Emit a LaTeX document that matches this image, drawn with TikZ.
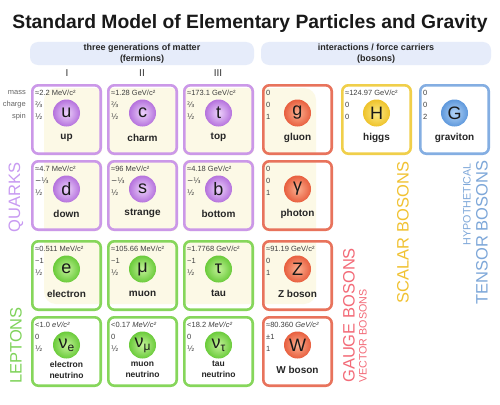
\documentclass[tikz,border=0pt]{standalone}
\usepackage{fontspec}
\setmainfont{Liberation Sans}
\newfontfamily\dvs{DejaVu Sans}
\definecolor{qline}{HTML}{CB98E8}
\definecolor{qin}{HTML}{EDD3FB}
\definecolor{qout}{HTML}{B572DD}
\definecolor{lline}{HTML}{86D65B}
\definecolor{lin}{HTML}{C4F29A}
\definecolor{lout}{HTML}{6ACB3A}
\definecolor{gline}{HTML}{E8735C}
\definecolor{gin}{HTML}{FBB090}
\definecolor{gout}{HTML}{E85F3F}
\definecolor{hline}{HTML}{F0CF4A}
\definecolor{hin}{HTML}{FCEB88}
\definecolor{hout}{HTML}{EEC22A}
\definecolor{tline}{HTML}{84AEE2}
\definecolor{tin}{HTML}{B5D5F7}
\definecolor{tout}{HTML}{5E98DC}
\definecolor{hdr}{HTML}{E6ECFA}
\definecolor{cream}{HTML}{FCF9E6}
\definecolor{qtxt}{HTML}{C89AF2}
\definecolor{ltxt}{HTML}{7FD35A}
\definecolor{gtxt}{HTML}{F36B78}
\definecolor{stxt}{HTML}{F1C232}
\definecolor{ttxt}{HTML}{7DA7D9}
\newcommand\fa{{\dvs ⅔}}
\newcommand\fb{{\dvs −⅓}}
\newcommand\fh{{\dvs ½}}
\newcommand\nusym[1]{ν\raisebox{-3pt}{\fontsize{12}{12}\selectfont #1}}
\newcommand\twoline[2]{\fontsize{8.5}{9}\selectfont #1\\\fontsize{8.5}{9}\selectfont #2}
\tikzset{
  cellbox/.style={draw=#1line, line width=2.6pt, rounded corners=6pt,
    minimum width=68.4pt, minimum height=68.4pt, inner sep=0pt},
  ballnode/.style={circle, minimum size=27pt, inner sep=0pt,
    inner color=#1in, outer color=#1out, text=black!90,
    font=\fontsize{18}{18}\selectfont},
  pname/.style={font=\bfseries\fontsize{10}{11}\selectfont, text=black!85,
    align=center, inner sep=0pt},
  pdata/.style={font=\fontsize{7.5}{8}\selectfont, text=black!75,
    anchor=west, inner sep=0pt},
  rowlbl/.style={font=\fontsize{7.5}{8}\selectfont, text=black!60,
    anchor=east, inner sep=0pt},
  hdrbox/.style={fill=hdr, rounded corners=8pt, minimum height=23pt,
    align=center, inner sep=0pt, text=black!85,
    font=\bfseries\fontsize{9}{11}\selectfont},
  gen/.style={font=\fontsize{10}{10}\selectfont, text=black!80, inner sep=0pt},
  biglbl/.style={rotate=90, inner sep=0pt, font=\fontsize{16.5}{17}\selectfont},
  smalllbl/.style={rotate=90, inner sep=0pt, font=\fontsize{10.7}{11}\selectfont}
}
\newcommand\pcell[9]{%
  \node[cellbox=#4] (#1) at ({#2+35.5},{#3+35.5}) {};
  \node[ballnode=#4] (#1-sym) at ({#2+35.5},{#3+29}) {#5};
  \node[pname] (#1-name) at ({#2+35.5},{#3+53.5}) {#6};
  \node[pdata] (#1-mass) at ({#2+4},{#3+9}) {#7};
  \node[pdata] (#1-charge) at ({#2+4},{#3+21}) {#8};
  \node[pdata] (#1-spin) at ({#2+4},{#3+33}) {#9};
}
\begin{document}
\begin{tikzpicture}[x=1pt,y=-1pt]
\useasboundingbox (0,0) rectangle (500,404);
\fill[white] (0,0) rectangle (500,404);
% faint background region, visible inside the cells only
\begin{scope}
  \clip[rounded corners=6pt]
    (31,84) rectangle (102,155) (107,84) rectangle (178,155) (183,84) rectangle (254,155)
    (31,160) rectangle (102,231) (107,160) rectangle (178,231) (183,160) rectangle (254,231)
    (31,240) rectangle (102,311) (107,240) rectangle (178,311) (183,240) rectangle (254,311)
    (262,84) rectangle (333,155) (262,160) rectangle (333,231) (262,240) rectangle (333,311);
  \fill[cream, rounded corners=12pt] (44,88) rectangle (316,304);
\end{scope}
% title
\node[font=\bfseries\fontsize{19.3}{20}\selectfont, anchor=base, inner sep=0pt, text=black!90]
  (title) at (250,29) {Standard Model of Elementary Particles and Gravity};
% headers
\node[hdrbox, minimum width=224pt] (hdrL) at (142,53.5) {three generations of matter\\(fermions)};
\node[hdrbox, minimum width=230pt] (hdrR) at (376,53.5) {interactions / force carriers\\(bosons)};
\node[gen] (g1) at (67,73) {I};
\node[gen] (g2) at (142,73) {II};
\node[gen] (g3) at (218,73) {III};
% row labels
\node[rowlbl] (lmass) at (26,93) {mass};
\node[rowlbl] (lcharge) at (26,105) {charge};
\node[rowlbl] (lspin) at (26,117) {spin};
% quarks
\pcell{up}{31}{84}{q}{u}{up}{≈2.2 MeV/c²}{\fa}{\fh}
\pcell{charm}{107}{84}{q}{c}{charm}{≈1.28 GeV/c²}{\fa}{\fh}
\pcell{top}{183}{84}{q}{t}{top}{≈173.1 GeV/c²}{\fa}{\fh}
\pcell{down}{31}{160}{q}{d}{down}{≈4.7 MeV/c²}{\fb}{\fh}
\pcell{strange}{107}{160}{q}{s}{strange}{≈96 MeV/c²}{\fb}{\fh}
\pcell{bottom}{183}{160}{q}{b}{bottom}{≈4.18 GeV/c²}{\fb}{\fh}
% leptons
\pcell{electron}{31}{240}{l}{e}{electron}{≈0.511 MeV/c²}{−1}{\fh}
\pcell{muon}{107}{240}{l}{μ}{muon}{≈105.66 MeV/c²}{−1}{\fh}
\pcell{tau}{183}{240}{l}{τ}{tau}{≈1.7768 GeV/c²}{−1}{\fh}
\pcell{nue}{31}{316}{l}{\nusym{e}}{\twoline{electron}{neutrino}}{<1.0 \textit{eV/c²}}{0}{\fh}
\pcell{numu}{107}{316}{l}{\nusym{μ}}{\twoline{muon}{neutrino}}{<0.17 \textit{MeV/c²}}{0}{\fh}
\pcell{nutau}{183}{316}{l}{\nusym{τ}}{\twoline{tau}{neutrino}}{<18.2 \textit{MeV/c²}}{0}{\fh}
% gauge bosons
\pcell{gluon}{262}{84}{g}{g}{gluon}{0}{0}{1}
\pcell{photon}{262}{160}{g}{γ}{photon}{0}{0}{1}
\pcell{zboson}{262}{240}{g}{Z}{Z boson}{≈91.19 GeV/c²}{0}{1}
\pcell{wboson}{262}{316}{g}{W}{W boson}{≈80.360 \textit{GeV/c²}}{±1}{1}
% higgs and graviton
\pcell{higgs}{341}{84}{h}{H}{higgs}{≈124.97 GeV/c²}{0}{0}
\pcell{graviton}{419}{84}{t}{G}{graviton}{0}{0}{2}
% side labels
\node[biglbl, text=qtxt] (quarks) at (16,197.5) {QUARKS};
\node[biglbl, text=ltxt] (leptons) at (16,345.5) {LEPTONS};
\node[biglbl, text=gtxt, anchor=west] (gauge) at (349,383) {GAUGE BOSONS};
\node[smalllbl, text=gtxt, anchor=west] (vector) at (363,383) {VECTOR BOSONS};
\node[biglbl, text=stxt] (scalar) at (403,232.5) {SCALAR BOSONS};
\node[biglbl, text=ttxt] (tensor) at (482,232.5) {TENSOR BOSONS};
\node[smalllbl, text=ttxt, anchor=east] (hypo) at (467,163) {HYPOTHETICAL};
\end{tikzpicture}
\end{document}
